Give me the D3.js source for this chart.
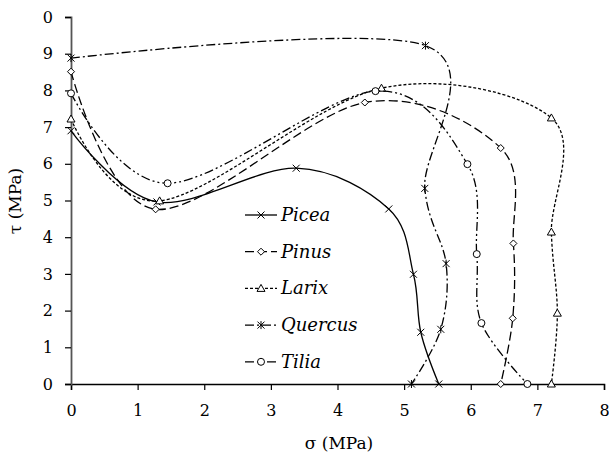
<!DOCTYPE html>
<html>
<head>
<meta charset="utf-8">
<script src="https://cdn.jsdelivr.net/npm/d3@7"></script>
<style>
body { margin: 0; background: #fff; }
</style>
</head>
<body>
<svg id="chart" width="609" height="456"></svg>
<script>
// sigma (MPa), tau (MPa)
const picea = [[0, 6.9], [1.29, 4.96], [3.38, 5.88], [4.77, 4.77], [5.14, 2.99], [5.25, 1.41], [5.52, 0]];
const pinus = [[0, 8.51], [1.27, 4.76], [4.41, 7.67], [6.45, 6.43], [6.64, 3.83], [6.63, 1.79], [6.45, 0]];
const larix = [[0, 7.22], [1.33, 4.99], [4.66, 8.06], [7.21, 7.25], [7.21, 4.14], [7.3, 1.93], [7.21, 0]];
const quercus = [[0, 8.88], [5.32, 9.22], [5.31, 5.33], [5.63, 3.28], [5.55, 1.49], [5.11, 0]];
const tilia = [[0, 7.92], [1.45, 5.47], [4.57, 7.98], [5.95, 5.99], [6.09, 3.54], [6.16, 1.66], [6.85, 0]];

const seriesNames = ["Picea", "Pinus", "Larix", "Quercus", "Tilia"];
const xTicks = [0, 1, 2, 3, 4, 5, 6, 7, 8];
const yTicks = [0, 1, 2, 3, 4, 5, 6, 7, 8, 9, 10];
const yTickLabels = ["0", "1", "2", "3", "4", "5", "6", "7", "8", "9", "0"];

// only serif face that resolves here
const serif = "DejaVu Serif";

const series = [
    { name: seriesNames[0], data: picea, dash: null, marker: "x" },
    { name: seriesNames[1], data: pinus, dash: "9,4", marker: "diamond" },
    { name: seriesNames[2], data: larix, dash: "3,2", marker: "triangle" },
    { name: seriesNames[3], data: quercus, dash: "9,3,2,3", marker: "star" },
    { name: seriesNames[4], data: tilia, dash: "9,3,2,3,2,3", marker: "circle" },
];

const svg = d3.select("#chart");
const x = d3.scaleLinear().domain([0, 8]).range([71, 604]);
const y = d3.scaleLinear().domain([0, 10]).range([384, 17]);

// axes
const xAxis = svg.append("g")
    .attr("transform", "translate(0,384)")
    .call(d3.axisBottom(x).tickValues(xTicks).tickSize(6).tickPadding(15).tickFormat(d3.format("d")));
xAxis.attr("font-size", 16);
xAxis.select(".domain").attr("stroke", "#000").attr("stroke-width", 1.5);
xAxis.selectAll("line").attr("stroke", "#000").attr("stroke-width", 1.2);
xAxis.selectAll("text").style("font-family", serif);

const yAxis = svg.append("g")
    .attr("transform", "translate(71,0)")
    .call(d3.axisLeft(y).tickValues(yTicks).tickSize(6).tickPadding(12).tickFormat((d, i) => yTickLabels[i]));
yAxis.attr("font-size", 16);
yAxis.select(".domain").attr("stroke", "#555").attr("stroke-width", 1.8);
yAxis.selectAll("line").attr("stroke", "#000").attr("stroke-width", 1.2);
yAxis.selectAll("text").style("font-family", serif);

svg.append("text")
    .attr("x", 339)
    .attr("y", 449)
    .attr("text-anchor", "middle")
    .attr("font-size", 17)
    .style("font-family", serif)
    .text("σ (MPa)");

svg.append("text")
    .attr("transform", "translate(21,201) rotate(-90)")
    .attr("text-anchor", "middle")
    .attr("font-size", 17)
    .style("font-family", serif)
    .text("τ (MPa)");

// markers
function drawMarker(g, type, cx, cy) {
    const s = 3.5;
    if (type === "x" || type === "star") {
        g.append("path")
            .attr("d", `M${cx - s},${cy - s}L${cx + s},${cy + s}M${cx - s},${cy + s}L${cx + s},${cy - s}` +
                (type === "star" ? `M${cx},${cy - s - 0.5}L${cx},${cy + s + 0.5}` : ""))
            .attr("stroke", "#000").attr("stroke-width", 1).attr("fill", "none");
    } else if (type === "diamond") {
        g.append("path")
            .attr("d", `M${cx},${cy - s}L${cx + s},${cy}L${cx},${cy + s}L${cx - s},${cy}Z`)
            .attr("stroke", "#000").attr("stroke-width", 1).attr("fill", "#fff");
    } else if (type === "triangle") {
        g.append("path")
            .attr("d", `M${cx},${cy - s - 0.5}L${cx + s + 0.5},${cy + s - 0.5}L${cx - s - 0.5},${cy + s - 0.5}Z`)
            .attr("stroke", "#000").attr("stroke-width", 1).attr("fill", "#fff");
    } else if (type === "circle") {
        g.append("circle")
            .attr("cx", cx).attr("cy", cy).attr("r", s)
            .attr("stroke", "#000").attr("stroke-width", 1).attr("fill", "#fff");
    }
}

const line = d3.line()
    .x((d) => x(d[0]))
    .y((d) => y(d[1]))
    .curve(d3.curveCardinal.tension(0));

series.forEach((s) => {
    const g = svg.append("g");
    g.append("path")
        .datum(s.data)
        .attr("d", line)
        .attr("fill", "none")
        .attr("stroke", "#000")
        .attr("stroke-width", 1.3)
        .attr("stroke-dasharray", s.dash);
    s.data.forEach((d) => drawMarker(g, s.marker, x(d[0]), y(d[1])));
});

// legend
const legend = svg.append("g");
series.forEach((s, i) => {
    const ly = 215 + i * 36.7;
    legend.append("line")
        .attr("x1", 245).attr("x2", 277)
        .attr("y1", ly).attr("y2", ly)
        .attr("stroke", "#000")
        .attr("stroke-width", 1.3)
        .attr("stroke-dasharray", s.dash);
    drawMarker(legend, s.marker, 261, ly);
    legend.append("text")
        .attr("x", 281)
        .attr("y", ly + 6)
        .attr("font-size", 18)
        .attr("font-style", "italic")
        .style("font-family", serif)
        .text(s.name);
});
</script>
</body>
</html>
